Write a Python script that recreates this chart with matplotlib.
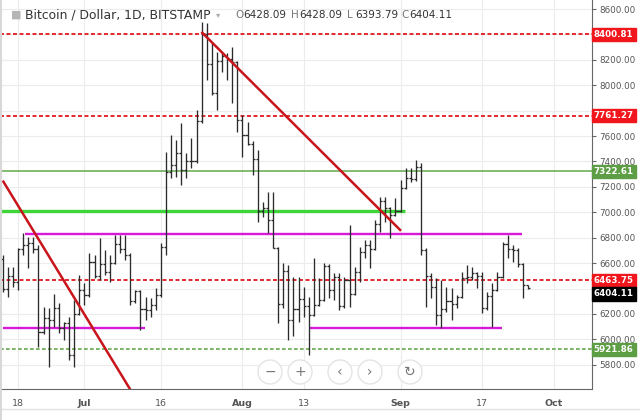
import numpy as np
import pandas as pd
import matplotlib
matplotlib.use('Agg')
import matplotlib.pyplot as plt
import matplotlib.dates as mdates
import matplotlib.transforms as mtransforms
from matplotlib.patches import Ellipse

# daily bars, Bitstamp BTC/USD
dates = pd.date_range('2018-06-15', '2018-09-26', freq='D')

opens = [6630, 6400, 6500, 6450, 6710, 6740, 6760, 6710, 6060, 6170, 6150, 6250, 6090, 6130, 5880, 6200,
         6390, 6350, 6610, 6500, 6590, 6530, 6600, 6750, 6710, 6660, 6300, 6380, 6240, 6230, 6270, 6350,
         6730, 7320, 7370, 7470, 7330, 7400, 7400, 7720, 8400, 8170, 7940, 8190, 8230, 8210, 8180,
         7730, 7610, 7540, 7420, 7010, 7030, 6940, 6720, 6280, 6540, 6150, 6240, 6320, 6260, 6190, 6270,
         6310, 6580, 6390, 6490, 6260, 6470, 6360, 6530, 6690, 6740, 6710, 6910, 7090, 7030, 6980,
         7010, 7190, 7270, 7260, 7360, 6700, 6500, 6410, 6190, 6240, 6300, 6280, 6330, 6480, 6490, 6520,
         6500, 6250, 6340, 6390, 6490, 6750, 6710, 6700, 6590, 6428.09]
highs = [6664, 6572, 6572, 6719, 6837, 6808, 6808, 6742, 6257, 6247, 6357, 6286, 6139, 6179, 6310, 6506,
         6441, 6677, 6664, 6795, 6703, 6664, 6821, 6821, 6821, 6677, 6389, 6390, 6336, 6325, 6404, 6756,
         7477, 7608, 7569, 7700, 7464, 7582, 7805, 8500, 8487, 8330, 8264, 8264, 8251, 8303, 8190,
         7766, 7713, 7560, 7490, 7084, 7162, 7162, 6730, 6598, 6585, 6493, 6493, 6415, 6336, 6638, 6480,
         6598, 6590, 6520, 6520, 6493, 6900, 6572, 6729, 6782, 6782, 6939, 7123, 7123, 7044, 7110,
         7254, 7346, 7346, 7412, 7386, 6717, 6520, 6480, 6467, 6415, 6402, 6349, 6533, 6585, 6572, 6533,
         6533, 6375, 6441, 6533, 6769, 6821, 6742, 6717, 6598, 6428.09]
lows = [6375, 6336, 6415, 6388, 6664, 6562, 6679, 5942, 6040, 5785, 6100, 6050, 5995, 5838, 5785, 6190,
        6271, 6336, 6480, 6467, 6507, 6454, 6590, 6677, 6625, 6271, 6284, 6074, 6150, 6178, 6231, 6336,
        6664, 7268, 7280, 7215, 7267, 7346, 7386, 7700, 8041, 7923, 7805, 8107, 8041, 7858, 7634,
        7437, 7530, 7293, 6926, 6965, 6835, 6717, 6127, 6250, 5995, 6030, 6139, 6178, 5877, 6180, 6260,
        6300, 6323, 6310, 6231, 6250, 6257, 6349, 6454, 6638, 6559, 6703, 6847, 6926, 6795, 6970,
        7000, 7180, 7241, 7250, 6664, 6257, 6323, 6113, 6087, 6218, 6152, 6244, 6323, 6441, 6467, 6402,
        6205, 6231, 6100, 6380, 6480, 6638, 6611, 6572, 6323, 6393.79]
closes = [6400, 6500, 6450, 6710, 6740, 6760, 6710, 6060, 6170, 6150, 6250, 6090, 6130, 5880, 6200, 6390,
          6350, 6610, 6500, 6590, 6530, 6600, 6750, 6710, 6660, 6300, 6380, 6240, 6230, 6270, 6350, 6730,
          7320, 7370, 7470, 7330, 7400, 7400, 7720, 8400, 8170, 7940, 8190, 8230, 8210, 8180, 7730,
          7610, 7540, 7420, 7010, 7030, 6940, 6720, 6280, 6540, 6150, 6240, 6320, 6260, 6190, 6270, 6310,
          6580, 6390, 6490, 6260, 6470, 6360, 6530, 6690, 6740, 6710, 6910, 7090, 7030, 6980, 7010,
          7190, 7270, 7260, 7360, 6700, 6500, 6410, 6190, 6240, 6300, 6280, 6330, 6480, 6490, 6520, 6500,
          6250, 6340, 6390, 6490, 6750, 6710, 6700, 6590, 6430, 6404.11]

# drawn levels
red_levels = [8400.81, 7761.27, 6463.75]
green_level = 7322.61
green_dot_level = 5921.86
last_price = 6404.11
green_mid = 7010
magenta_top = 6827
magenta_low = 6087

# trend lines (date, price)
trend1 = [('2018-06-15 03:00', 7241), ('2018-07-10 00:00', 5605)]
trend2 = [('2018-07-24 03:00', 8413), ('2018-08-31 22:00', 6861)]

xticks = ['2018-06-18', '2018-07-01', '2018-07-16', '2018-08-01', '2018-08-13',
          '2018-09-01', '2018-09-17', '2018-10-01']
xlabels = ['18', 'Jul', '16', 'Aug', '13', 'Sep', '17', 'Oct']
yticks = np.arange(5800, 8601, 200)
hidden_ticks = [8400, 7800, 6400]   # covered by the price tags

W, H = 640, 420
fig = plt.figure(figsize=(6.4, 4.2), dpi=100)
fig.patch.set_facecolor('white')
ax = fig.add_axes([0, (H - 389) / H, 592 / W, 389 / H])

def d(s):
    return mdates.date2num(pd.Timestamp(s))

x = mdates.date2num(dates)
xmin, xmax = d('2018-06-14 11:00'), d('2018-10-08 13:00')
ax.set_xlim(xmin, xmax)
ax.set_ylim(5609, 8671)

# grid
for t in xticks:
    ax.axvline(d(t), color='#ececec', lw=0.8, zorder=0)
for t in yticks:
    ax.axhline(t, color='#ececec', lw=0.8, zorder=0)

# OHLC bars
w = 0.42
bar_col = '#2b2b2b'
ax.vlines(x, lows, highs, color=bar_col, lw=0.95, zorder=3)
ax.hlines(opens, x - w, x, color=bar_col, lw=0.95, zorder=3)
ax.hlines(closes, x, x + w, color=bar_col, lw=0.95, zorder=3)

# horizontal levels
for lv in red_levels:
    ax.axhline(lv, color='#e0191f', lw=1.3, ls=(0, (2.2, 1.4)), zorder=2)
ax.axhline(green_level, color='#63a84a', lw=1.1, zorder=2)
ax.axhline(green_dot_level, color='#63a84a', lw=1.2, ls=(0, (2.2, 1.4)), zorder=2)
ax.hlines(green_mid, xmin, d('2018-09-01 21:00'), color='#3fd43a', lw=2.4, zorder=2)
ax.hlines(magenta_top, d('2018-06-19 09:00'), d('2018-09-24 19:00'), color='#d81ad8', lw=1.7, zorder=2)
ax.hlines(magenta_low, d('2018-06-15 02:00'), d('2018-07-12 22:00'), color='#d81ad8', lw=1.7, zorder=2)
ax.hlines(magenta_low, d('2018-08-14 06:00'), d('2018-09-20 21:00'), color='#d81ad8', lw=1.7, zorder=2)

# trend lines
for tr in (trend1, trend2):
    ax.plot([d(tr[0][0]), d(tr[1][0])], [tr[0][1], tr[1][1]], color='#c8141b', lw=1.8, zorder=4)

# axes styling
for s in ('left', 'top'):
    ax.spines[s].set_visible(False)
ax.spines['right'].set_color('#666')
ax.spines['bottom'].set_color('#666')
ax.yaxis.tick_right()
ax.set_yticks(yticks)
ax.set_yticklabels(['' if v in hidden_ticks else f'{v:.2f}' for v in yticks])
ax.tick_params(axis='y', colors='#666', labelsize=6.3, length=3, pad=2, labelcolor='#555')
ax.set_xticks([d(t) for t in xticks])
ax.set_xticklabels(xlabels)
ax.tick_params(axis='x', length=0, pad=7, labelsize=6.8, labelcolor='#555')
for lab in ax.get_xticklabels():
    if lab.get_text().isalpha():
        lab.set_fontweight('bold')

# price labels on the right axis
trans = mtransforms.blended_transform_factory(ax.transAxes, ax.transData)
def price_tag(val, ypos, bg):
    ax.text(1.003, ypos, f'{val:.2f}', transform=trans, color='white', fontsize=6.3,
            fontweight='bold', va='center', ha='left', zorder=10, clip_on=False,
            bbox=dict(boxstyle='square,pad=0.25', fc=bg, ec=bg))

for lv in red_levels:
    price_tag(lv, lv, '#f0161b')
price_tag(green_level, green_level, '#5d9e45')
price_tag(green_dot_level, green_dot_level, '#5d9e45')
price_tag(last_price, 6357, '#000000')

# title
def px(xp, yp):
    return xp / W, 1 - yp / H
fig.text(*px(11, 15), '\u25a0', color='#b5b5b5', fontsize=8, va='center')
fig.text(*px(25, 15), 'Bitcoin / Dollar, 1D, BITSTAMP', color='#333', fontsize=8.9, va='center')
fig.text(*px(216, 15), '\u25be', color='#aaa', fontsize=6, va='center')
ohlc_txt = [('O', f'{opens[-1]:.2f}', 235), ('H', f'{highs[-1]:.2f}', 291),
            ('L', f'{lows[-1]:.2f}', 347), ('C', f'{closes[-1]:.2f}', 401)]
for k, v, xp in ohlc_txt:
    fig.text(*px(xp, 15), k, color='#777', fontsize=7.5, va='center')
    fig.text(*px(xp + 8.5, 15), v, color='#333', fontsize=7.5, va='center')

# chart navigation buttons
for xp, sym in [(270, '\u2212'), (300, '+'), (340, '\u2039'), (370, '\u203a'), (410, '\u21bb')]:
    e = Ellipse(px(xp, 372), 24 / W, 24 / H, transform=fig.transFigure,
                fc='white', ec='#e4e4e4', lw=1.0, zorder=20)
    fig.add_artist(e)
    fig.text(*px(xp, 372), sym, color='#777', fontsize=10, ha='center', va='center', zorder=21)

# frame bits
fig.add_artist(plt.Line2D([0, 1], [1 - 409 / H] * 2, transform=fig.transFigure, color='#e2e2e2', lw=1))
fig.add_artist(plt.Line2D([0.5 / W] * 2, [0, 1], transform=fig.transFigure, color='#d8d8d8', lw=1.5))

fig.savefig('out.png', dpi=100, facecolor='white')
